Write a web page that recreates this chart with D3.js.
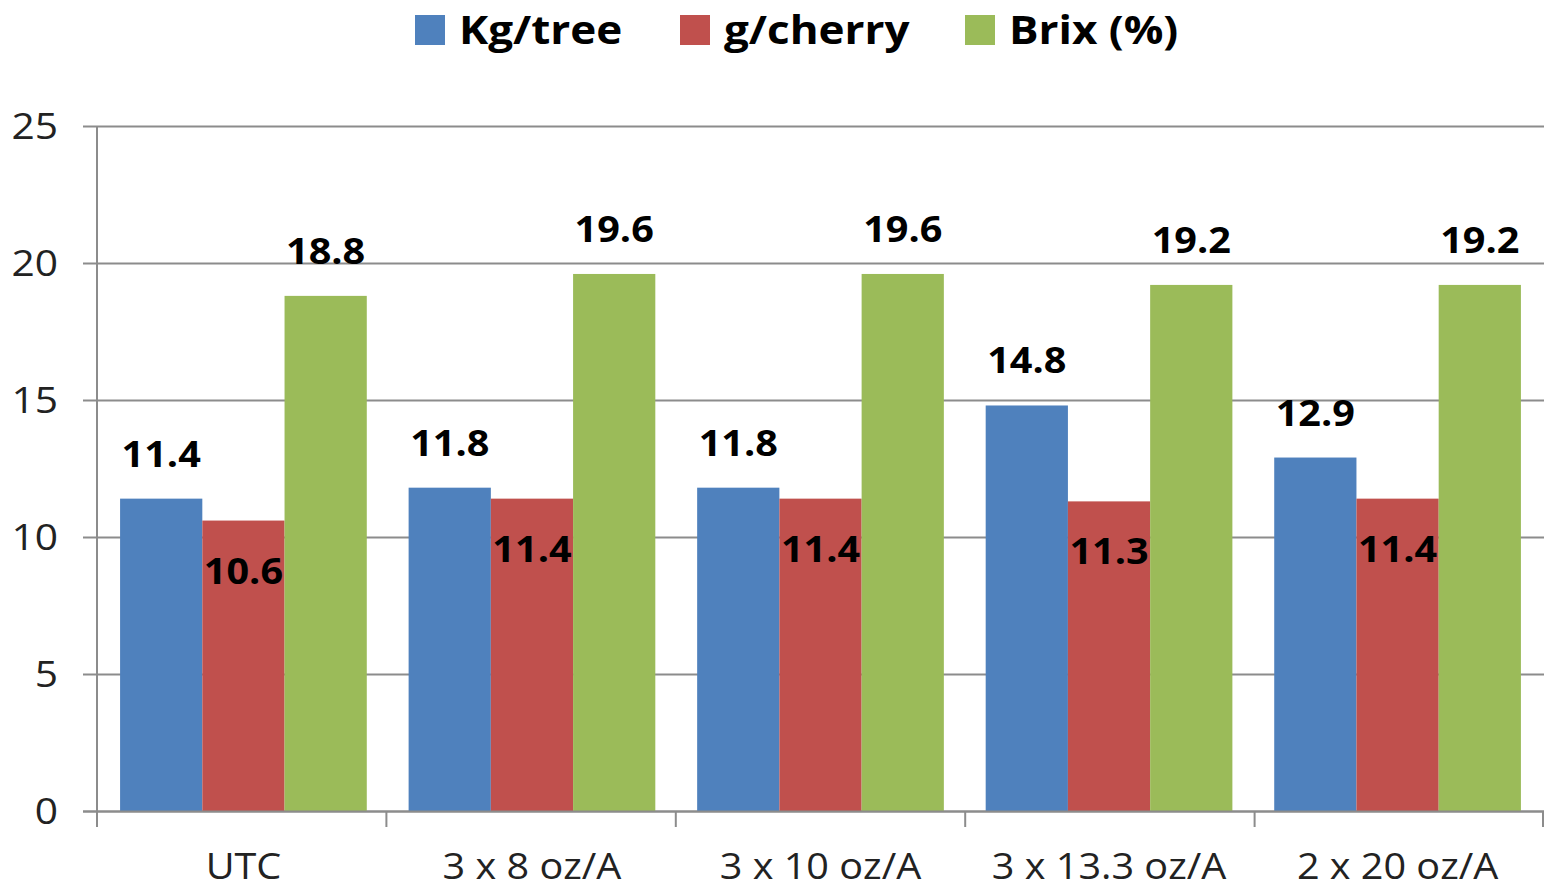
<!DOCTYPE html>
<style>
  body { margin: 0; background: #fff; }
  svg text { font-family: "Open Sans", sans-serif; }
</style>
<body>
  <div id="frame"></div>
</body>
<script src="https://cdnjs.cloudflare.com/ajax/libs/d3/7.8.5/d3.min.js"></script>
<script>
  var categories = ["UTC", "3 x 8 oz/A", "3 x 10 oz/A", "3 x 13.3 oz/A", "2 x 20 oz/A"];
  var seriesNames = ["Kg/tree", "g/cherry", "Brix (%)"];
  var kgTree = [11.4, 11.8, 11.8, 14.8, 12.9];
  var gCherry = [10.6, 11.4, 11.4, 11.3, 11.4];
  var brix = [18.8, 19.6, 19.6, 19.2, 19.2];
  var yTicks = [0, 5, 10, 15, 20, 25];
  var colors = ["#4f81bd", "#c0504d", "#9bbb59"];

  var width = 1544, height = 889;
  var plotLeft = 97, plotRight = 1544, plotTop = 126, plotBottom = 811;
  var sx = 1.1; // horizontal stretch of the text

  var values = [kgTree, gCherry, brix];
  var rows = categories.map(function (c, i) {
    return { cat: c, vals: values.map(function (s, k) { return { key: k, v: s[i] }; }) };
  });

  // category slots, and the bars inside each slot
  var slot = d3.scaleBand().domain(categories).range([plotLeft, plotRight]);
  var x0 = d3.scaleBand().domain(categories).range([plotLeft, plotRight]).paddingInner(0.145).paddingOuter(0.08);
  var x1 = d3.scaleBand().domain([0, 1, 2]).range([0, x0.bandwidth()]);
  var y = d3.scaleLinear().domain([0, 25]).range([plotBottom, plotTop]);

  function place(px, py) { return "translate(" + px + "," + py + ") scale(" + sx + ",1)"; }

  var svg = d3.select("#frame").append("svg")
    .attr("width", width)
    .attr("height", height);

  // gridlines
  svg.append("g").selectAll("line").data(yTicks).enter().append("line")
    .attr("x1", plotLeft - 14).attr("x2", plotRight)
    .attr("y1", function (d) { return y(d) + 0.5; })
    .attr("y2", function (d) { return y(d) + 0.5; })
    .attr("stroke", "#8c8c8c").attr("stroke-width", 2);

  // y labels
  svg.append("g").selectAll("text").data(yTicks).enter().append("text")
    .attr("transform", function (d) { return place(58, y(d)); })
    .attr("dy", "0.36em")
    .attr("text-anchor", "end")
    .attr("font-size", 37)
    .attr("fill", "#222")
    .text(function (d) { return d; });

  // bars
  var groups = svg.append("g").selectAll("g").data(rows).enter().append("g")
    .attr("transform", function (d) { return "translate(" + x0(d.cat) + ",0)"; });

  groups.selectAll("rect").data(function (d) { return d.vals; }).enter().append("rect")
    .attr("x", function (d) { return x1(d.key); })
    .attr("width", x1.bandwidth())
    .attr("y", function (d) { return y(d.v); })
    .attr("height", function (d) { return y(0) - y(d.v); })
    .attr("fill", function (d) { return colors[d.key]; });

  // value labels: red ones sit just inside the bar top
  groups.selectAll("text").data(function (d) { return d.vals; }).enter().append("text")
    .attr("transform", function (d) {
      return place(x1(d.key) + x1.bandwidth() / 2, d.key === 1 ? y(d.v) + 50 : y(d.v) - 45);
    })
    .attr("dy", "0.36em")
    .attr("text-anchor", "middle")
    .attr("font-size", 36)
    .attr("font-weight", "bold")
    .attr("fill", "#000")
    .text(function (d) { return d.v.toFixed(1); });

  // axis lines
  svg.append("line")
    .attr("x1", plotLeft).attr("x2", plotLeft).attr("y1", plotTop).attr("y2", plotBottom + 16)
    .attr("stroke", "#8c8c8c").attr("stroke-width", 2);
  svg.append("line")
    .attr("x1", plotLeft - 14).attr("x2", plotRight).attr("y1", plotBottom + 0.5).attr("y2", plotBottom + 0.5)
    .attr("stroke", "#8c8c8c").attr("stroke-width", 2);

  var bounds = categories.map(function (c) { return slot(c); }).concat([plotRight - 1]);
  svg.append("g").selectAll("line").data(bounds).enter().append("line")
    .attr("x1", function (d) { return d; }).attr("x2", function (d) { return d; })
    .attr("y1", plotBottom).attr("y2", plotBottom + 16)
    .attr("stroke", "#8c8c8c").attr("stroke-width", 2);

  // category labels
  svg.append("g").selectAll("text").data(categories).enter().append("text")
    .attr("transform", function (d) { return place(x0(d) + x0.bandwidth() / 2, 866); })
    .attr("dy", "0.36em")
    .attr("text-anchor", "middle")
    .attr("font-size", 36)
    .attr("fill", "#222")
    .text(function (d) { return d; });

  // legend
  var legendX = [415, 680, 965];
  var legend = svg.append("g").selectAll("g").data(seriesNames).enter().append("g")
    .attr("transform", function (d, i) { return "translate(" + legendX[i] + ",0)"; });
  legend.append("rect")
    .attr("x", 0).attr("y", 15).attr("width", 30).attr("height", 30)
    .attr("fill", function (d, i) { return colors[i]; });
  legend.append("text")
    .attr("transform", place(44, 30))
    .attr("dy", "0.36em")
    .attr("font-size", 40)
    .attr("font-weight", "bold")
    .attr("fill", "#000")
    .text(function (d) { return d; });
</script>
